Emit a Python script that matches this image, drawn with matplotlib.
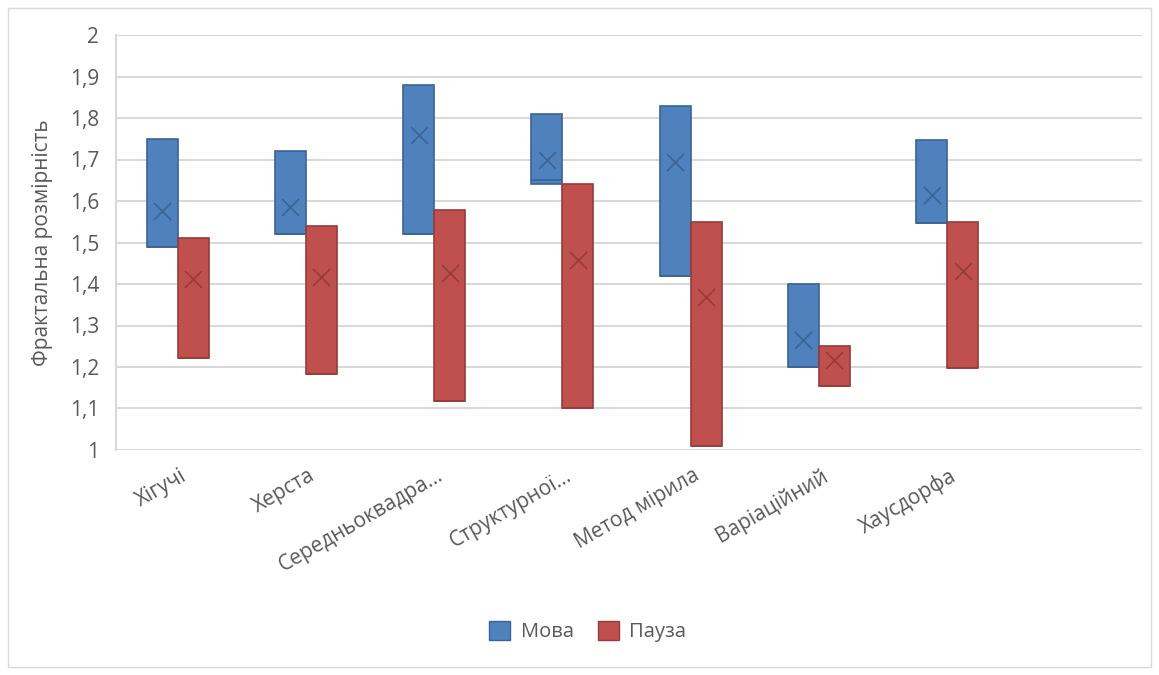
import numpy as np
import matplotlib.pyplot as plt
from matplotlib.patches import Rectangle, Patch

plt.rcParams['font.family'] = ['Open Sans', 'DejaVu Sans']

# fractal dimension estimates: box = quartile range, x = mean
categories = ['Хігучі', 'Херста', 'Середньоквадра...', 'Структурної...',
              'Метод мірила', 'Варіаційний', 'Хаусдорфа', '']

speech_low = [1.49, 1.52, 1.52, 1.64, 1.42, 1.20, 1.548]
speech_high = [1.75, 1.72, 1.88, 1.81, 1.83, 1.40, 1.748]
speech_median = [1.49, 1.52, 1.52, 1.65, 1.42, 1.20, 1.548]
speech_mean = [1.576, 1.586, 1.759, 1.70, 1.694, 1.265, 1.614]

pause_low = [1.222, 1.183, 1.118, 1.10, 1.01, 1.155, 1.198]
pause_high = [1.51, 1.54, 1.578, 1.64, 1.55, 1.25, 1.55]
pause_median = [1.222, 1.183, 1.118, 1.10, 1.01, 1.155, 1.198]
pause_mean = [1.412, 1.417, 1.426, 1.458, 1.369, 1.217, 1.431]

blue, blue_edge = '#4F81BD', '#3A6496'
red, red_edge = '#C0504D', '#953B39'
grey_text = '#595959'

fig = plt.figure(figsize=(11.59, 6.75), dpi=100)
fig.patches.append(Rectangle((0.007, 0.012), 0.986, 0.976, transform=fig.transFigure,
                             fill=False, edgecolor='#D9D9D9', linewidth=1))
ax = fig.add_axes([116 / 1159, 1 - 450 / 675, (1142 - 116) / 1159, (450 - 35) / 675])

x = np.arange(len(speech_low)) - 0.02
w = 0.242

def draw_boxes(pos, low, high, med, mean, face, edge):
    low, high = np.array(low), np.array(high)
    ax.bar(pos, high - low, bottom=low, width=w, color=face, edgecolor=edge,
           linewidth=1.2, zorder=3)
    ax.hlines(med, pos - w / 2, pos + w / 2, color=edge, linewidth=1.2, zorder=4)
    ax.scatter(pos, mean, marker='x', s=150, color=edge, linewidths=1.2, zorder=5)

draw_boxes(x - w / 2, speech_low, speech_high, speech_median, speech_mean, blue, blue_edge)
draw_boxes(x + w / 2, pause_low, pause_high, pause_median, pause_mean, red, red_edge)

ax.set_xlim(-0.5, len(categories) - 0.5)
ax.set_ylim(1, 2)
yticks = np.round(np.arange(1, 2.01, 0.1), 1)
ax.set_yticks(yticks)
ax.set_yticklabels([f'{v:g}'.replace('.', ',') for v in yticks], fontsize=15, color=grey_text)
ax.set_xticks(np.arange(len(categories)))
ax.set_xticklabels(categories, rotation=30, ha='right', va='top', rotation_mode='anchor',
                   fontsize=15, color=grey_text)
ax.tick_params(length=0)
ax.tick_params(axis='y', pad=12)
ax.tick_params(axis='x', pad=11)
ax.grid(axis='y', color='#D9D9D9', linewidth=1.5, zorder=0)
ax.set_axisbelow(True)
for side in ['top', 'right', 'bottom']:
    ax.spines[side].set_visible(False)
ax.spines['left'].set_color('#D9D9D9')
ax.spines['left'].set_linewidth(1.5)

ax.set_ylabel('Фрактальна розмірність', fontsize=15, color=grey_text, labelpad=12)

handles = [Patch(facecolor=blue, edgecolor=blue_edge, label='Мова'),
           Patch(facecolor=red, edgecolor=red_edge, label='Пауза')]
fig.legend(handles=handles, loc='center', bbox_to_anchor=(0.507, 0.064), ncol=2,
           frameon=False, fontsize=14.5, labelcolor=grey_text, handlelength=1.05,
           handleheight=1.05, columnspacing=1.2, handletextpad=0.5)

fig.savefig('out.png', dpi=100)
